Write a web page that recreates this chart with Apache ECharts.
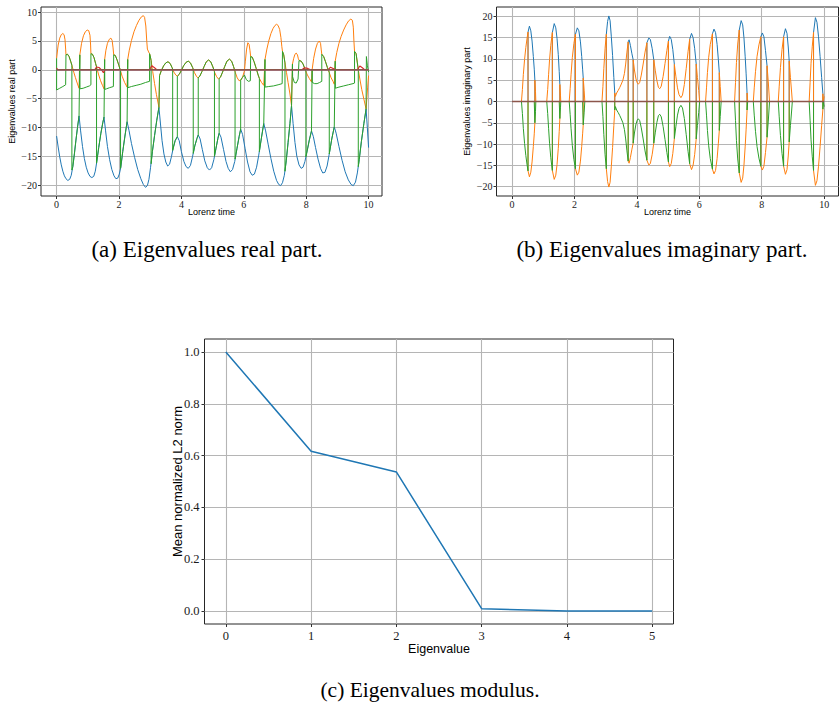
<!DOCTYPE html>
<html><head><meta charset="utf-8">
<script src="https://cdn.jsdelivr.net/npm/echarts@6/dist/echarts.min.js"></script>
<style>html,body{margin:0;padding:0;background:#fff}#c{width:839px;height:705px}</style>
</head><body><div id="c"></div>
<script>
// ---------- tick labels ----------
const timeTicks = [0, 2, 4, 6, 8, 10];
const realTicks = [-20, -15, -10, -5, 0, 5, 10];
const imagTicks = [-20, -15, -10, -5, 0, 5, 10, 15, 20];
const eigIndexTicks = [0, 1, 2, 3, 4, 5];
const normTicks = [0, 0.2, 0.4, 0.6, 0.8, 1.0];

// ---------- (c) eigenvalue modulus ----------
const eigIndex = [0, 1, 2, 3, 4, 5];
const normVals = [1.0, 0.617, 0.537, 0.009, 0.0006, 0.0004];

// ---------- (a) real parts [time, value] ----------
const realBlue = [[0,-11.5],[0.05,-13.4],[0.1,-15.1],[0.15,-16.5],[0.2,-17.6],[0.25,-18.4],[0.3,-18.9],[0.36,-19.2],[0.42,-19.0],[0.47,-18.3],[0.52,-16.8],[0.57,-14.6],[0.62,-12.2],[0.67,-10.0],[0.72,-8.0],
[0.77,-10.6],[0.83,-13.3],[0.89,-15.4],[0.95,-16.9],[1.01,-17.9],[1.07,-18.5],[1.13,-18.7],[1.19,-18.5],[1.24,-17.6],[1.29,-15.9],[1.35,-13.5],[1.42,-11.0],[1.48,-9.2],[1.52,-8.2],
[1.57,-10.6],[1.63,-13.3],[1.7,-15.6],[1.77,-17.3],[1.84,-18.4],[1.9,-18.9],[1.96,-18.8],[2.01,-18.1],[2.06,-16.9],[2.12,-14.2],[2.19,-11.5],[2.26,-9.0],
[2.32,-10.5],[2.4,-12.8],[2.5,-15.2],[2.6,-17.3],[2.7,-18.9],[2.78,-19.9],[2.85,-20.4],[2.91,-20.1],[2.96,-19.0],[3.01,-17.0],[3.07,-14.2],[3.14,-11.4],[3.21,-8.8],[3.28,-6.5],
[3.33,-9.4],[3.38,-12.3],[3.44,-14.6],[3.5,-16.0],[3.56,-16.7],[3.62,-16.4],[3.68,-15.1],[3.74,-13.5],[3.8,-12.3],[3.87,-11.6],
[3.93,-12.3],[4.0,-14.2],[4.08,-15.9],[4.15,-16.8],[4.22,-17.1],[4.29,-16.6],[4.36,-15.0],[4.43,-13.2],[4.5,-11.9],[4.54,-11.3],
[4.6,-12.0],[4.67,-13.8],[4.75,-15.8],[4.83,-17.0],[4.9,-17.4],[4.97,-17.0],[5.04,-15.6],[5.11,-13.6],[5.17,-11.9],[5.21,-11.0],
[5.27,-11.7],[5.35,-13.8],[5.43,-15.9],[5.5,-17.1],[5.57,-17.7],[5.64,-17.3],[5.71,-15.9],[5.78,-13.7],[5.85,-11.6],[5.9,-10.3],
[5.96,-11.2],[6.04,-13.6],[6.12,-16.0],[6.2,-17.7],[6.27,-18.3],[6.34,-18.1],[6.41,-16.9],[6.48,-14.8],[6.56,-12.0],[6.64,-9.3],
[6.7,-10.6],[6.78,-12.9],[6.87,-15.4],[6.96,-17.6],[7.05,-19.2],[7.12,-19.9],[7.18,-20.1],[7.24,-19.6],[7.3,-18.3],[7.36,-15.8],[7.42,-12.6],[7.48,-9.3],[7.53,-6.2],
[7.58,-9.3],[7.64,-12.6],[7.7,-15.0],[7.77,-16.5],[7.84,-17.1],[7.9,-16.9],[7.96,-15.9],[8.03,-14.1],[8.1,-12.2],[8.17,-10.6],
[8.23,-11.6],[8.3,-13.5],[8.38,-15.5],[8.46,-17.1],[8.53,-17.9],[8.6,-17.8],[8.67,-16.7],[8.74,-14.6],[8.82,-12.0],[8.9,-9.9],
[8.96,-11.0],[9.05,-13.3],[9.15,-15.7],[9.25,-17.7],[9.35,-19.1],[9.44,-19.9],[9.51,-20.1],[9.58,-19.5],[9.64,-17.9],[9.7,-15.6],[9.77,-12.4],[9.85,-9.3],[9.92,-6.8],
[9.96,-10.0],[10.0,-13.5]];

const realOrange = [[0,2.0],[0.05,4.3],[0.1,5.5],[0.15,6.1],[0.2,6.3],[0.24,6.1],[0.27,5.2],[0.29,3.6],[0.3,2.6],[0.35,2.7],[0.4,2.3],[0.45,1.5],[0.49,0.8],[0.55,-0.4],[0.6,-1.3],[0.66,-2.3],[0.72,-3.2],
[0.745,2.6],[0.8,4.6],[0.86,5.9],[0.92,6.6],[0.98,6.9],[1.03,6.8],[1.07,6.0],[1.09,4.3],[1.1,2.8],[1.15,2.7],[1.2,2.1],[1.25,1.1],[1.28,0.5],[1.35,-0.9],[1.41,-1.9],[1.47,-2.7],[1.52,-3.3],
[1.54,1.8],[1.58,3.4],[1.63,4.6],[1.69,5.3],[1.74,5.5],[1.78,5.1],[1.81,3.8],[1.83,2.6],[1.88,2.5],[1.94,1.7],[2.0,0.7],[2.05,-0.2],[2.1,-1.1],[2.18,-2.2],[2.26,-3.0],
[2.28,1.8],[2.33,3.4],[2.4,5.1],[2.48,6.6],[2.56,7.7],[2.64,8.6],[2.72,9.2],[2.78,9.4],[2.82,9.1],[2.86,7.6],[2.89,5.0],[2.91,3.6],[2.95,3.1],[2.98,2.8],[3.0,2.4],[3.03,1.6],[3.08,-0.3],[3.14,-2.4],[3.2,-4.3],[3.28,-6.5],
[3.3,-1.0],[3.36,-0.1],[3.43,0.7],[3.5,1.2],[3.57,1.4],[3.64,1.1],[3.7,0.4],[3.76,-0.4],[3.82,-0.9],[3.87,-1.1],[3.93,-0.8],[4.0,-0.1],[4.07,0.7],[4.15,1.3],[4.22,1.5],[4.29,1.2],[4.36,0.4],[4.42,-0.5],[4.48,-1.1],[4.53,-1.4],[4.59,-1.1],[4.66,-0.3],[4.73,0.6],[4.8,1.4],[4.87,1.7],[4.94,1.4],[5.01,0.5],[5.07,-0.5],[5.13,-1.2],[5.19,-1.6],[5.25,-1.3],[5.32,-0.4],[5.39,0.6],[5.46,1.5],[5.54,1.85],[5.61,1.5],[5.67,0.6],[5.73,-0.5],[5.79,-1.4],[5.85,-1.9],[5.9,-1.8],[5.96,-1.3],[6.02,-0.2],
[6.05,1.5],[6.09,3.6],[6.13,4.7],[6.17,4.4],[6.2,3.3],[6.22,2.3],[6.27,2.2],[6.33,1.4],[6.4,0.2],[6.46,-0.9],[6.5,-1.5],[6.57,-2.2],[6.64,-2.7],
[6.68,1.8],[6.74,3.6],[6.8,5.0],[6.87,6.3],[6.94,7.2],[7.0,7.7],[7.05,7.9],[7.1,7.7],[7.15,7.0],[7.19,5.6],[7.22,4.0],[7.24,3.2],[7.28,2.6],[7.32,1.2],[7.37,-0.5],[7.42,-2.2],[7.48,-4.2],[7.53,-6.2],
[7.56,1.0],[7.6,2.0],[7.64,2.7],[7.68,2.9],[7.72,2.6],[7.75,1.9],[7.78,1.6],[7.84,1.5],[7.9,1.0],[7.95,0.3],[7.99,-0.3],[8.04,-0.9],[8.1,-1.5],[8.17,-2.1],
[8.19,0.0],[8.24,2.0],[8.3,3.6],[8.36,4.6],[8.42,5.0],[8.46,4.6],[8.48,3.6],[8.5,2.7],[8.56,2.3],[8.62,1.4],[8.68,0.4],[8.74,-0.5],[8.8,-1.4],[8.86,-2.0],[8.9,-2.5],
[8.93,1.5],[8.98,3.0],[9.05,4.6],[9.12,5.8],[9.2,6.9],[9.28,7.8],[9.36,8.5],[9.43,8.8],[9.48,8.6],[9.51,7.4],[9.53,5.0],[9.55,3.2],[9.6,2.8],[9.64,1.2],[9.67,0.0],[9.72,-1.6],[9.78,-3.4],[9.85,-5.1],[9.92,-6.8],[9.97,-3.0],[10.0,-1.0]];

const realGreen = [[0,2.0],[0,-3.5],[0.1,-3.2],[0.2,-2.9],[0.29,-2.6],[0.3,2.6],[0.35,2.7],[0.4,2.3],[0.45,1.5],[0.49,0.8],[0.49,-17.4],[0.52,-16.8],[0.57,-14.6],[0.62,-12.2],[0.67,-10.0],[0.72,-8.0],
[0.745,2.6],[0.75,-3.3],[0.85,-3.2],[0.95,-3.0],[1.05,-2.8],[1.1,-2.6],[1.1,2.8],[1.15,2.7],[1.2,2.1],[1.25,1.1],[1.28,0.5],[1.28,-16.2],[1.35,-13.5],[1.42,-11.0],[1.48,-9.2],[1.52,-8.2],
[1.54,1.8],[1.545,-3.4],[1.6,-3.3],[1.7,-3.1],[1.82,-2.9],[1.83,2.6],[1.88,2.5],[1.94,1.7],[2.0,0.7],[2.05,-0.2],[2.05,-17.1],[2.12,-14.2],[2.19,-11.5],[2.26,-9.0],
[2.28,1.8],[2.285,-3.1],[2.4,-2.9],[2.55,-2.7],[2.7,-2.5],[2.85,-2.2],[2.98,-2.0],[2.98,2.8],[3.0,2.4],[3.03,1.6],[3.03,-16.3],[3.07,-14.2],[3.14,-11.4],[3.21,-8.8],[3.28,-6.5],
[3.3,-1.0],[3.36,-0.1],[3.43,0.7],[3.5,1.2],[3.57,1.4],[3.64,1.1],[3.7,0.4],[3.72,0.1],[3.72,-14.0],[3.8,-12.3],[3.87,-11.6],[3.87,-1.1],[3.93,-0.8],[4.0,-0.1],[4.07,0.7],[4.15,1.3],[4.22,1.5],[4.29,1.2],[4.36,0.4],[4.38,0.1],[4.38,-14.5],[4.43,-13.2],[4.5,-11.9],[4.54,-11.3],[4.54,-1.4],[4.59,-1.1],[4.66,-0.3],[4.73,0.6],[4.8,1.4],[4.87,1.7],[4.94,1.4],[5.01,0.5],[5.06,-0.3],[5.06,-15.0],[5.11,-13.6],[5.17,-11.9],[5.21,-11.0],[5.21,-1.5],[5.25,-1.3],[5.32,-0.4],[5.39,0.6],[5.46,1.5],[5.54,1.85],[5.61,1.5],[5.67,0.6],[5.72,-0.3],[5.72,-15.5],[5.78,-13.7],[5.85,-11.6],[5.9,-10.3],[5.9,-1.8],[5.96,-1.3],[6.02,-0.9],[6.08,-1.7],[6.15,-2.0],[6.21,-1.9],[6.22,2.3],[6.27,2.2],[6.33,1.4],[6.4,0.2],[6.46,-0.9],[6.5,-1.5],[6.5,-14.2],[6.56,-12.0],[6.64,-9.3],
[6.68,1.8],[6.685,-3.0],[6.8,-2.9],[6.95,-2.8],[7.1,-2.6],[7.23,-2.4],[7.24,3.2],[7.28,2.6],[7.32,1.2],[7.32,-17.6],[7.36,-15.8],[7.42,-12.6],[7.48,-9.3],[7.53,-6.2],
[7.56,1.0],[7.565,-1.2],[7.62,-2.2],[7.68,-2.3],[7.74,-1.6],[7.77,1.6],[7.84,1.5],[7.9,1.0],[7.95,0.3],[7.99,-0.2],[7.99,-15.1],[8.03,-14.1],[8.1,-12.2],[8.17,-10.6],
[8.19,0.0],[8.195,-2.2],[8.27,-2.4],[8.35,-2.4],[8.43,-2.2],[8.5,-2.0],[8.5,2.7],[8.56,2.3],[8.62,1.4],[8.68,0.4],[8.74,-0.4],[8.74,-14.6],[8.82,-12.0],[8.9,-9.9],
[8.93,1.5],[8.935,-3.2],[9.05,-3.0],[9.2,-2.8],[9.35,-2.6],[9.5,-2.4],[9.55,-2.3],[9.55,3.2],[9.6,2.8],[9.64,1.2],[9.67,0.0],[9.67,-16.8],[9.7,-15.6],[9.77,-12.4],[9.85,-9.3],[9.92,-6.8],[9.93,2.3],[9.96,0.8],[10.0,-0.4]];

const realRed = [[0,0.3],[0.04,0],[1.22,0],[1.28,0.5],[1.36,0.4],[1.44,0],[1.5,-0.5],[1.55,0],[2.98,0],[3.05,0.7],[3.13,0.4],[3.22,0],[7.86,0],[7.95,0.35],[8.05,0.25],[8.14,0],[8.7,0],[8.78,0.45],[8.88,0.2],[8.95,0],[9.64,0],[9.72,0.65],[9.8,0.35],[9.88,0],[10,0]];
const zeroLine = [[0,0],[10,0]];

// ---------- (b) imaginary parts: positive branch of each conjugate lobe [time, value]
// swap times: where the pair switches which series carries it
const imagLobe1 = [[0.30,0],[0.33,2.8],[0.36,6.3],[0.40,9.9],[0.44,12.7],[0.48,14.9],[0.51,16.3],[0.555,17.7],[0.6,16.6],[0.64,14.2],[0.68,10.6],[0.71,7.6],[0.73,5.0],[0.75,2.3],[0.76,0]];
const imagSwap1 = [[0.51,0.73]];
const imagLobe2 = [[1.11,0],[1.14,2.8],[1.17,6.4],[1.2,9.8],[1.24,13.2],[1.29,16.2],[1.35,18.3],[1.4,17.3],[1.44,14.8],[1.48,11.0],[1.51,7.0],[1.53,4.0],[1.55,1.5],[1.56,0]];
const imagSwap2 = [[1.29,1.53]];
const imagLobe3 = [[1.83,0],[1.86,3.0],[1.89,6.4],[1.93,10.3],[1.98,13.6],[2.03,15.8],[2.09,17.3],[2.14,16.6],[2.19,14.0],[2.23,10.6],[2.26,7.6],[2.28,5.5],[2.31,2.5],[2.33,0]];
const imagSwap3 = [[2.03,2.28]];
const imagLobe4 = [[2.88,0],[2.91,3.5],[2.94,7.8],[2.98,12.5],[3.02,15.8],[3.06,18.8],[3.1,20.1],[3.14,19.0],[3.18,15.2],[3.22,10.8],[3.26,5.6],[3.29,2.0],[3.31,1.2],[3.35,2.0],[3.4,2.6],[3.45,3.3],[3.5,4.1],[3.55,5.0],[3.6,6.6],[3.64,8.8],[3.68,11.6],[3.72,14.0],[3.75,14.5],[3.79,13.2],[3.84,11.2],[3.88,9.8],[3.92,7.4],[3.97,5.3],[4.02,4.2],[4.05,4.1],[4.09,4.5],[4.14,6.2],[4.2,8.8],[4.26,11.6],[4.32,13.8],[4.38,14.9],[4.43,14.6],[4.49,12.4],[4.54,9.8],[4.59,7.2],[4.64,4.9],[4.69,3.3],[4.73,3.0],[4.78,3.6],[4.84,5.9],[4.9,8.9],[4.96,12.0],[5.01,14.2],[5.05,15.3],[5.1,14.6],[5.15,12.2],[5.2,8.7],[5.25,5.8],[5.3,3.2],[5.35,1.6],[5.41,0.9],[5.46,1.5],[5.52,4.0],[5.58,7.8],[5.64,11.8],[5.69,14.6],[5.75,16.0],[5.8,15.0],[5.85,12.5],[5.9,8.8],[5.94,5.6],[5.98,2.6],[6.01,0]];
const imagSwap4 = [[3.02,3.29],[3.72,3.88],[4.32,4.54],[5.01,5.2],[5.69,5.9]];
const imagLobe5 = [[6.2,0],[6.23,3.2],[6.26,6.8],[6.3,10.4],[6.35,13.4],[6.42,15.9],[6.47,17.0],[6.52,16.2],[6.57,13.4],[6.61,9.8],[6.64,6.8],[6.67,3.5],[6.7,0]];
const imagSwap5 = [[6.42,6.64]];
const imagLobe6 = [[7.13,0],[7.16,4.5],[7.19,9.2],[7.23,13.5],[7.28,16.8],[7.34,19.0],[7.39,18.0],[7.43,15.0],[7.47,10.5],[7.5,6.5],[7.53,2.0],[7.55,0]];
const imagSwap6 = [[7.28,7.53]];
const imagLobe7 = [[7.73,0],[7.76,3.2],[7.8,7.0],[7.85,10.6],[7.91,13.3],[7.97,15.2],[8.02,16.1],[8.07,15.2],[8.12,12.0],[8.17,8.4],[8.21,4.6],[8.25,0]];
const imagSwap7 = [[7.97,8.17]];
const imagLobe8 = [[8.53,0],[8.56,3.6],[8.6,8.0],[8.65,12.2],[8.7,15.2],[8.76,17.1],[8.81,16.0],[8.85,12.8],[8.88,9.5],[8.92,5.6],[8.96,2.0],[8.98,0]];
const imagSwap8 = [[8.7,8.88]];
const imagLobe9 = [[9.52,0],[9.55,4.4],[9.58,9.0],[9.62,13.0],[9.66,16.2],[9.72,19.7],[9.77,18.6],[9.82,15.2],[9.87,10.6],[9.92,5.6],[9.96,1.8],[9.97,0],[10.0,1.2]];
const imagSwap9 = [[9.66,9.96]];

// ---------- assemble conjugate pairs into the three plotted series ----------
function buildImag(lobes) {
  const blue = [[0,0]], orange = [[0,0]], green = [[0,0]];
  lobes.forEach(([pts, swaps]) => {
    let inside = false;
    pts.forEach(([t, v]) => {
      const s1 = swaps.some(s => s[0] === t), s2 = swaps.some(s => s[1] === t);
      if (s1) { blue.push([t,0],[t,v]); orange.push([t,v],[t,-v]); green.push([t,-v],[t,0]); inside = true; }
      else if (s2) { blue.push([t,v],[t,0]); orange.push([t,-v],[t,v]); green.push([t,0],[t,-v]); inside = false; }
      else if (inside) { blue.push([t,v]); orange.push([t,-v]); green.push([t,0]); }
      else { blue.push([t,0]); orange.push([t,v]); green.push([t,-v]); }
    });
  });
  return { blue, orange, green };
}
const imag = buildImag([[imagLobe1,imagSwap1],[imagLobe2,imagSwap2],[imagLobe3,imagSwap3],[imagLobe4,imagSwap4],[imagLobe5,imagSwap5],[imagLobe6,imagSwap6],[imagLobe7,imagSwap7],[imagLobe8,imagSwap8],[imagLobe9,imagSwap9]]);

// ---------- styling ----------
const C = ['#1f77b4','#ff7f0e','#2ca02c','#d62728','#9467bd','#8c564b'];
const serif = '"Liberation Serif", "DejaVu Serif", serif';
const sans = '"Liberation Sans", "DejaVu Sans", sans-serif';
const minus = v => String(v).replace('-', '\u2212');

function axisCommon(ticks, fs, margin, fmt) {
  return {
    type: 'value',
    axisLine: { show: false, onZero: false },
    axisTick: { show: true, customValues: ticks, length: 3, lineStyle: { color: '#333', width: 1 } },
    axisLabel: { customValues: ticks, fontFamily: serif, fontSize: fs, color: '#1a1a1a', margin: margin, formatter: fmt },
    splitLine: { show: true, lineStyle: { color: '#b5b5b5', width: 1.1 } }
  };
}
function line(data, color, xi, yi, w) {
  return { type: 'line', data: data, xAxisIndex: xi, yAxisIndex: yi, showSymbol: false, symbol: 'none',
    lineStyle: { color: color, width: w || 1 }, itemStyle: { color: color }, animation: false, clip: true };
}
function txt(x, y, text, size, family, rot) {
  return { type: 'text', x: x, y: y, rotation: rot || 0,
    style: { text: text, fontSize: size, fontFamily: family, fill: '#000', align: 'center', verticalAlign: 'middle' } };
}

const gridStyle = { show: true, borderColor: '#262626', borderWidth: 1, backgroundColor: 'transparent' };
const option = {
  backgroundColor: '#fff',
  animation: false,
  grid: [
    Object.assign({ left: 41, top: 7, width: 341, height: 189 }, gridStyle),
    Object.assign({ left: 496.5, top: 7, width: 342, height: 189 }, gridStyle),
    Object.assign({ left: 204.5, top: 339, width: 469, height: 285 }, gridStyle)
  ],
  xAxis: [
    Object.assign(axisCommon(timeTicks, 10, 3, minus), { gridIndex: 0, min: -0.5, max: 10.43 }),
    Object.assign(axisCommon(timeTicks, 10, 3, minus), { gridIndex: 1, min: -0.5, max: 10.46 }),
    Object.assign(axisCommon(eigIndexTicks, 12.5, 5, minus), { gridIndex: 2, min: -0.25, max: 5.25 })
  ],
  yAxis: [
    Object.assign(axisCommon(realTicks, 10, 4, minus), { gridIndex: 0, min: -21.9, max: 10.9 }),
    Object.assign(axisCommon(imagTicks, 10, 4, minus), { gridIndex: 1, min: -22.2, max: 22.2 }),
    Object.assign(axisCommon(normTicks, 12.5, 5, v => v.toFixed(1)), { gridIndex: 2, min: -0.05, max: 1.05 })
  ],
  series: [
    line(realBlue, C[0], 0, 0), line(realOrange, C[1], 0, 0), line(realGreen, C[2], 0, 0),
    line(realRed, C[3], 0, 0, 1.1), line(zeroLine, C[4], 0, 0), line(zeroLine, C[5], 0, 0, 1.4),
    line(imag.blue, C[0], 1, 1), line(imag.orange, C[1], 1, 1), line(imag.green, C[2], 1, 1),
    line(zeroLine, C[3], 1, 1, 1.1), line(zeroLine, C[4], 1, 1), line(zeroLine, C[5], 1, 1, 1.4),
    line(eigIndex.map((e, i) => [e, normVals[i]]), C[0], 2, 2, 1.5)
  ],
  graphic: [
    txt(211.5, 211.5, 'Lorenz time', 9, sans),
    txt(12, 101.5, 'Eigenvalues real part', 9, sans, Math.PI / 2),
    txt(667.5, 211.5, 'Lorenz time', 9, sans),
    txt(467, 101.5, 'Eigenvalues imaginary part', 9, sans, Math.PI / 2),
    txt(439, 649, 'Eigenvalue', 12.5, sans),
    txt(177, 481.5, 'Mean normalized L2 norm', 13, sans, Math.PI / 2),
    txt(207, 249, '(a) Eigenvalues real part.', 23, serif),
    txt(662, 249, '(b) Eigenvalues imaginary part.', 23, serif),
    txt(430, 690, '(c) Eigenvalues modulus.', 21.5, serif)
  ]
};
const chart = echarts.init(document.getElementById('c'), null, { renderer: 'svg' });
chart.setOption(option);
</script>
</body></html>
